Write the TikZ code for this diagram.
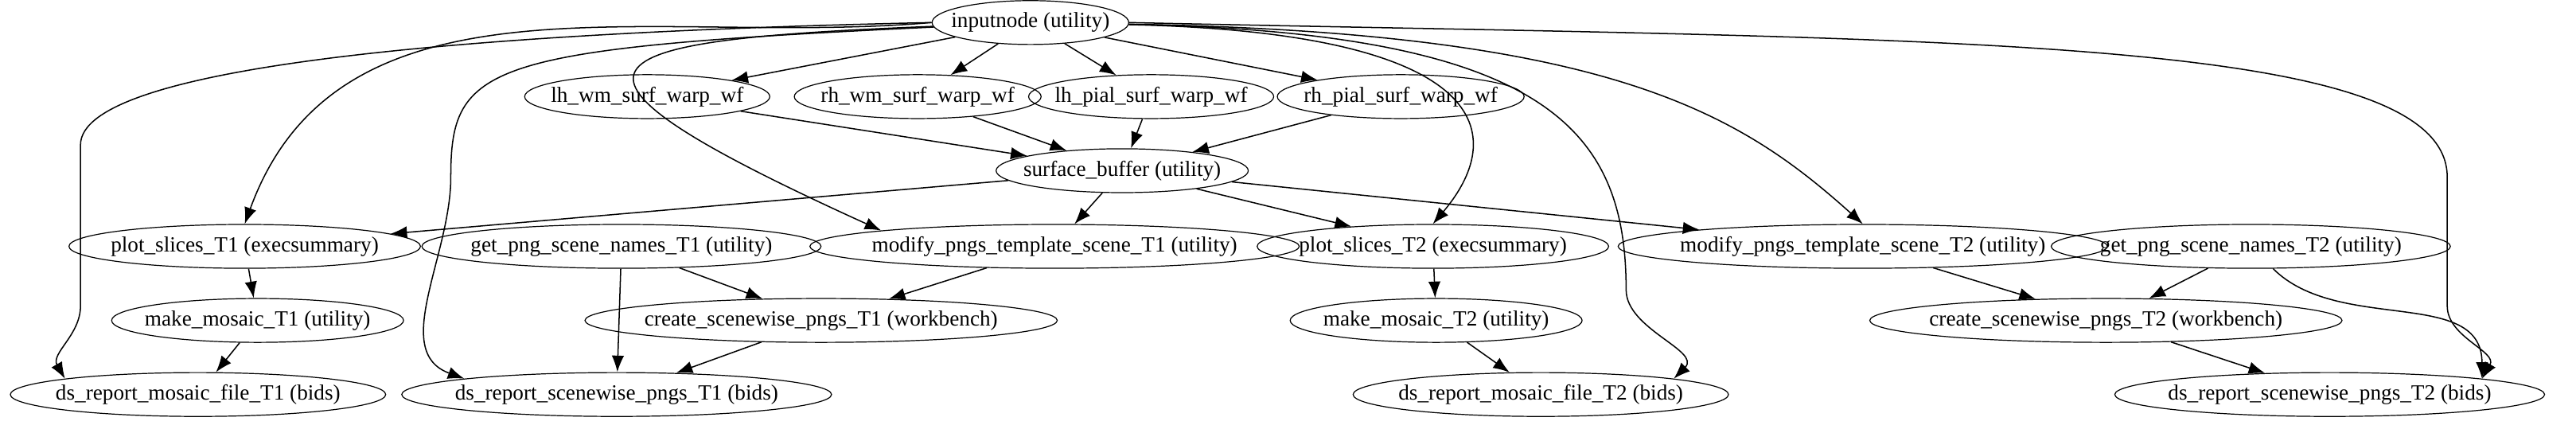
\documentclass[tikz,border=0pt]{standalone}
\usepackage{fontspec}
\setmainfont{Liberation Serif}
\usetikzlibrary{arrows.meta,positioning,shapes.geometric,calc}

\tikzset{
  wf/.style={ellipse,draw,inner xsep=-4pt,inner ysep=0pt,minimum height=0.64cm,font=\fontsize{9}{11}\selectfont},
  flow/.style={-{Latex[length=2.4mm,width=1.8mm]},line width=0.5pt}
}

\begin{document}
\begin{tikzpicture}[x=0.0235cm,y=-0.0235cm]
\useasboundingbox (0,0) rectangle (1600,266);
% top
\node[wf] (input) at (640,14) {inputnode (utility)};
\node[wf] (lhwm) at (402,60) {lh\_wm\_surf\_warp\_wf};
\node[wf] (rhwm) at (570,60) {rh\_wm\_surf\_warp\_wf};
\node[wf] (lhpial) at (715,60) {lh\_pial\_surf\_warp\_wf};
\node[wf] (rhpial) at (870,60) {rh\_pial\_surf\_warp\_wf};
\node[wf] (buffer) at (697,106) {surface\_buffer (utility)};

% T1 branch
\node[wf] (plotT1) at (152,153) {plot\_slices\_T1 (execsummary)};
\node[wf] (getT1) at (386,153) {get\_png\_scene\_names\_T1 (utility)};
\node[wf] (modT1) at (655,153) {modify\_pngs\_template\_scene\_T1 (utility)};
\node[wf] (mosT1) at (160,199) {make\_mosaic\_T1 (utility)};
\node[wf] (creT1) at (510,199) {create\_scenewise\_pngs\_T1 (workbench)};
\node[wf] (dsmT1) at (123,245) {ds\_report\_mosaic\_file\_T1 (bids)};
\node[wf] (dssT1) at (383,245) {ds\_report\_scenewise\_pngs\_T1 (bids)};

% T2 branch
\node[wf] (plotT2) at (890,153) {plot\_slices\_T2 (execsummary)};
\node[wf] (modT2) at (1157,153) {modify\_pngs\_template\_scene\_T2 (utility)};
\node[wf] (getT2) at (1398,153) {get\_png\_scene\_names\_T2 (utility)};
\node[wf] (mosT2) at (892,199) {make\_mosaic\_T2 (utility)};
\node[wf] (creT2) at (1308,199) {create\_scenewise\_pngs\_T2 (workbench)};
\node[wf] (dsmT2) at (957,245) {ds\_report\_mosaic\_file\_T2 (bids)};
\node[wf] (dssT2) at (1447,245) {ds\_report\_scenewise\_pngs\_T2 (bids)};

% from inputnode
\foreach \t in {lhwm,rhwm,lhpial,rhpial}
  \draw[flow] (input) -- (\t);
\draw[flow] (input.west) to[out=185,in=70] (plotT1.north);
\draw[flow] (input.west) .. controls (300,20) and (50,40) .. (50,90) -- (50,190) to[out=-90,in=120] (dsmT1.north west);
\draw[flow] (input) .. controls (300,30) and (280,40) .. (280,110) to[out=-90,in=160] (dssT1.north west);
\draw[flow] (input) .. controls (360,25) and (320,40) .. (modT1.north west);
\draw[flow] (input) .. controls (920,20) and (940,80) .. (plotT2.north);
\draw[flow] (input) .. controls (960,20) and (1010,80) .. (1010,180) to[out=-90,in=45] (dsmT2.north east);
\draw[flow] (input) .. controls (1000,20) and (1080,70) .. (modT2.north);
\draw[flow] (input.east) .. controls (1200,25) and (1520,20) .. (1520,110) -- (1520,190) to[out=-90,in=60] (dssT2.north east);

% surface buffer
\foreach \s in {lhwm,rhwm,lhpial,rhpial}
  \draw[flow] (\s) -- (buffer);
\foreach \t in {plotT1,modT1,plotT2,modT2}
  \draw[flow] (buffer) -- (\t);

% T1 chain
\draw[flow] (plotT1) -- (mosT1);
\draw[flow] (mosT1) -- (dsmT1);
\draw[flow] (getT1) -- (creT1);
\draw[flow] (getT1) -- (dssT1);
\draw[flow] (modT1) -- (creT1);
\draw[flow] (creT1) -- (dssT1);

% T2 chain
\draw[flow] (plotT2) -- (mosT2);
\draw[flow] (mosT2) -- (dsmT2);
\draw[flow] (modT2) -- (creT2);
\draw[flow] (getT2) -- (creT2);
\draw[flow] (creT2) -- (dssT2);
\draw[flow] (getT2) to[out=-45,in=90] (dssT2.north east);
\end{tikzpicture}
\end{document}
